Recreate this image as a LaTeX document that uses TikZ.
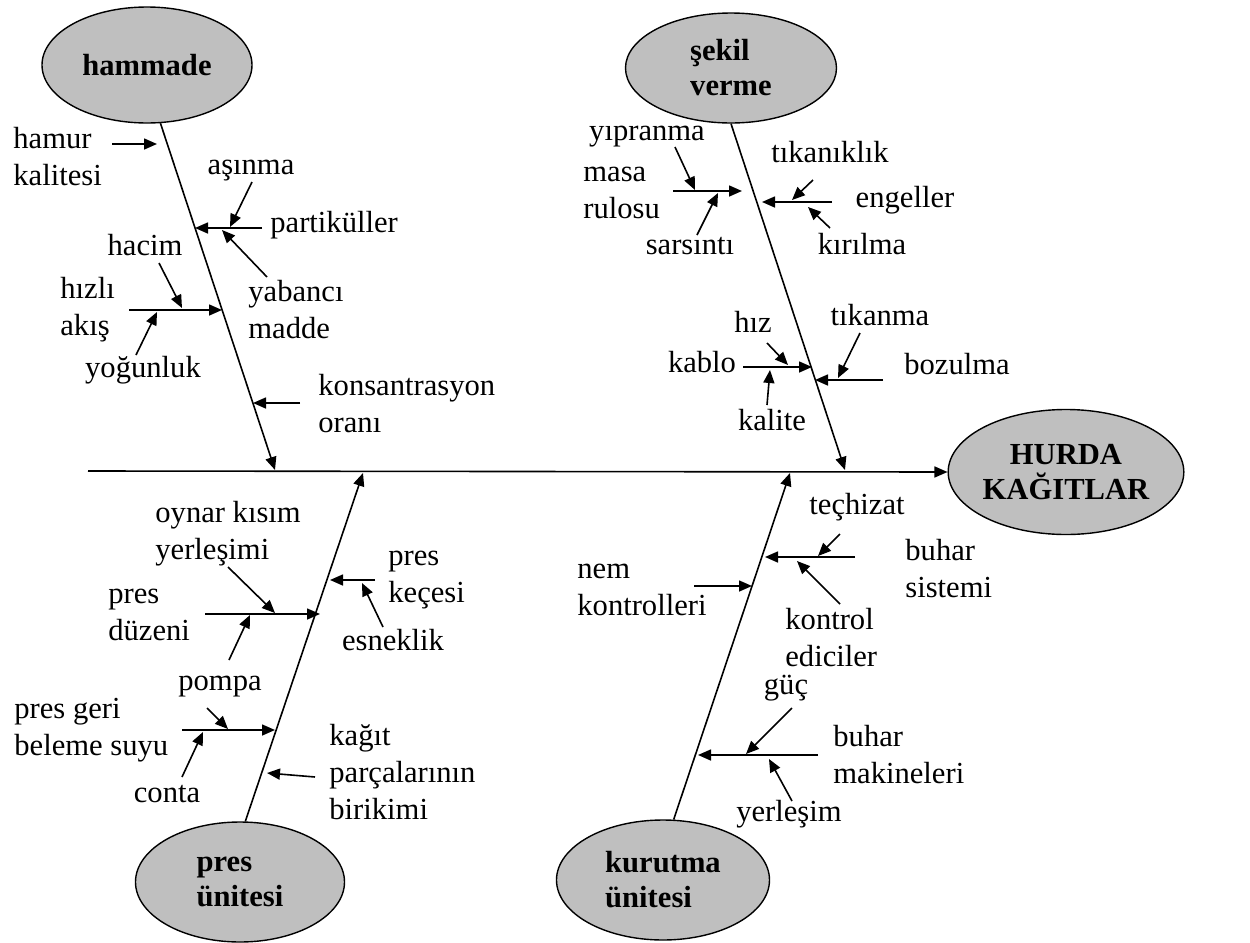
\documentclass[tikz,border=0pt]{standalone}
\usepackage{fontspec}
\setmainfont{Liberation Serif}
\usetikzlibrary{arrows.meta,shapes.geometric,positioning}

\begin{document}
\begin{tikzpicture}[
  x=0.5pt, y=-0.5pt,
  font=\fontsize{15.3}{18.5}\selectfont,
  cause/.style={ellipse, draw=black, line width=0.7pt, fill=black!25, inner sep=0pt,
                align=left, font=\fontsize{15.3}{17.5}\selectfont\bfseries},
  word/.style={inner sep=1pt, text height=10.5pt, text depth=3.5pt},
  lbl/.style={inner sep=1pt, align=left, anchor=west},
  bone/.style={draw=black, line width=0.8pt, -{Triangle[length=6.5pt,width=5.5pt]}},
  sub/.style={draw=black, line width=0.8pt, -{Triangle[length=6.5pt,width=5.5pt]}}
]
\useasboundingbox (0,0) rectangle (1250,943);

% effect and main causes
\node[cause, align=center, minimum width=113.5pt, minimum height=62.5pt] (effect) at (1066,472) {HURDA\\KAĞITLAR};
\node[cause, minimum width=105pt, minimum height=58pt] (raw) at (147,65) {hammade};
\node[cause, minimum width=105.5pt, minimum height=55pt] (form) at (731,68) {şekil\\verme};
\node[cause, minimum width=104.5pt, minimum height=60pt] (press) at (240,882) {pres\\ünitesi};
\node[cause, minimum width=106.5pt, minimum height=60pt] (dryer) at (663,880) {kurutma\\ünitesi};

% spine and bones
\coordinate (tail) at (88,471);
\coordinate (rawJ) at (275,470);
\coordinate (formJ) at (845,470);
\coordinate (pressJ) at (363,473);
\coordinate (dryerJ) at (790,473);
\draw[bone] (tail) -- (effect.west);
\draw[bone] (raw.283) -- (rawJ);
\draw[bone] (form.south) -- (formJ);
\draw[bone] (press.85) -- (pressJ);
\draw[bone] (dryer.80) -- (dryerJ);

% ---- hammade
\node[lbl] (hamur) at (11,157) {hamur\\kalitesi};
\node[word] (asinma) at (251,167) {aşınma};
\node[lbl] (partik) at (268,225) {partiküller};
\node[lbl] (yabanci) at (246,310) {yabancı\\madde};
\node[lbl] (hizli) at (58,310) {hızlı\\akış};
\node[word] (hacim) at (145,248) {hacim};
\node[word] (yogun) at (143,370) {yoğunluk};
\node[lbl] (konsan) at (316,404) {konsantrasyon\\oranı};

\coordinate (hamT) at (112,144); \coordinate (hamH) at (157,144);
\coordinate (parT) at (262,228); \coordinate (parH) at (195,228);
\coordinate (asiT) at (252,182); \coordinate (asiH) at (230,227);
\coordinate (yabT) at (267,277); \coordinate (yabH) at (222,230);
\coordinate (hizT) at (129,310); \coordinate (hizH) at (222,310);
\coordinate (hacT) at (159,263); \coordinate (hacH) at (182,308);
\coordinate (yogT) at (136,355); \coordinate (yogH) at (157,312);
\coordinate (konT) at (300,403); \coordinate (konH) at (253,403);
\draw[sub] (hamT) -- (hamH);
\draw[sub] (parT) -- (parH);
\draw[sub] (asiT) -- (asiH);
\draw[sub] (yabT) -- (yabH);
\draw[sub] (hizT) -- (hizH);
\draw[sub] (hacT) -- (hacH);
\draw[sub] (yogT) -- (yogH);
\draw[sub] (konT) -- (konH);

% ---- şekil verme
\node[lbl] (masa) at (581,193) {masa\\rulosu};
\node[word] (yipranma) at (647,133) {yıpranma};
\node[word] (sarsinti) at (690,247) {sarsıntı};
\node[word] (engeller) at (905,200) {engeller};
\node[word] (tikaniklik) at (830,155) {tıkanıklık};
\node[word] (kirilma) at (862,247) {kırılma};
\node[word] (kablo) at (702,365) {kablo};
\node[word] (hiz) at (753,325) {hız};
\node[word] (kalite) at (772,423) {kalite};
\node[word] (bozulma) at (957,367) {bozulma};
\node[word] (tikanma) at (880,318) {tıkanma};

\coordinate (masT) at (673,191); \coordinate (masH) at (742,191);
\coordinate (yipT) at (675,147); \coordinate (yipH) at (695,190);
\coordinate (sarT) at (697,235); \coordinate (sarH) at (718,193);
\coordinate (engT) at (832,202); \coordinate (engH) at (762,202);
\coordinate (tikT) at (813,180); \coordinate (tikH) at (792,200);
\coordinate (kirT) at (830,228); \coordinate (kirH) at (808,207);
\coordinate (kabT) at (743,367); \coordinate (kabH) at (812,367);
\coordinate (hzT) at (767,343);  \coordinate (hzH) at (788,365);
\coordinate (kalT) at (767,405); \coordinate (kalH) at (770,370);
\coordinate (bozT) at (883,380); \coordinate (bozH) at (815,380);
\coordinate (tknT) at (860,333); \coordinate (tknH) at (838,378);
\draw[sub] (masT) -- (masH);
\draw[sub] (yipT) -- (yipH);
\draw[sub] (sarT) -- (sarH);
\draw[sub] (engT) -- (engH);
\draw[sub] (tikT) -- (tikH);
\draw[sub] (kirT) -- (kirH);
\draw[sub] (kabT) -- (kabH);
\draw[sub] (hzT) -- (hzH);
\draw[sub] (kalT) -- (kalH);
\draw[sub] (bozT) -- (bozH);
\draw[sub] (tknT) -- (tknH);

% ---- pres ünitesi
\node[lbl] (presduz) at (106,615) {pres\\düzeni};
\node[lbl] (oynar) at (153,534) {oynar kısım\\yerleşimi};
\node[word] (pompa) at (220,683) {pompa};
\node[lbl] (presgeri) at (12,730) {pres geri\\beleme suyu};
\node[word] (conta) at (167,795) {conta};
\node[lbl] (preskec) at (386,580) {pres\\keçesi};
\node[word] (esneklik) at (393,643) {esneklik};
\node[lbl] (kagit) at (327,772) {kağıt\\parçalarının\\birikimi};

\coordinate (pduT) at (205,614); \coordinate (pduH) at (320,614);
\coordinate (oynT) at (228,567); \coordinate (oynH) at (275,613);
\coordinate (pomT) at (229,660); \coordinate (pomH) at (250,615);
\coordinate (pgT) at (182,730);  \coordinate (pgH) at (275,730);
\coordinate (pmbT) at (207,708); \coordinate (pmbH) at (228,729);
\coordinate (conT) at (182,777); \coordinate (conH) at (203,732);
\coordinate (pkeT) at (375,580); \coordinate (pkeH) at (330,580);
\coordinate (esnT) at (383,627); \coordinate (esnH) at (362,583);
\coordinate (kagT) at (315,777); \coordinate (kagH) at (267,773);
\draw[sub] (pduT) -- (pduH);
\draw[sub] (oynT) -- (oynH);
\draw[sub] (pomT) -- (pomH);
\draw[sub] (pgT) -- (pgH);
\draw[sub] (pmbT) -- (pmbH);
\draw[sub] (conT) -- (conH);
\draw[sub] (pkeT) -- (pkeH);
\draw[sub] (esnT) -- (esnH);
\draw[sub] (kagT) -- (kagH);

% ---- kurutma ünitesi
\node[lbl] (buharsis) at (903,569) {buhar\\sistemi};
\node[word] (techizat) at (857,507) {teçhizat};
\node[lbl] (kontrol) at (783,638) {kontrol\\ediciler};
\node[lbl] (nem) at (575,590) {nem\\kontrolleri};
\node[lbl] (buharmak) at (831,755) {buhar\\makineleri};
\node[word] (guc) at (786,687) {güç};
\node[word] (yerlesim) at (789,814) {yerleşim};

\coordinate (bsT) at (855,557);  \coordinate (bsH) at (765,557);
\coordinate (tecT) at (840,534); \coordinate (tecH) at (818,556);
\coordinate (kedT) at (840,604); \coordinate (kedH) at (797,561);
\coordinate (nemT) at (694,586); \coordinate (nemH) at (752,586);
\coordinate (bmT) at (818,755);  \coordinate (bmH) at (698,755);
\coordinate (gucT) at (792,708); \coordinate (gucH) at (746,754);
\coordinate (yerT) at (792,801); \coordinate (yerH) at (769,759);
\draw[sub] (bsT) -- (bsH);
\draw[sub] (tecT) -- (tecH);
\draw[sub] (kedT) -- (kedH);
\draw[sub] (nemT) -- (nemH);
\draw[sub] (bmT) -- (bmH);
\draw[sub] (gucT) -- (gucH);
\draw[sub] (yerT) -- (yerH);
\end{tikzpicture}
\end{document}
